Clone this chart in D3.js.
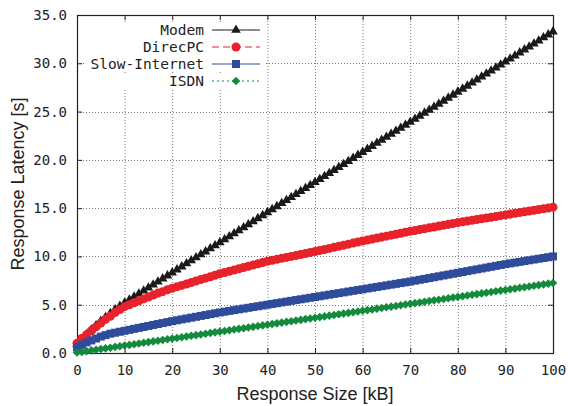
<!DOCTYPE html>
<html><head><meta charset="utf-8">
<script src="https://cdn.jsdelivr.net/npm/d3@7"></script>
<style>body{margin:0;background:#fff}svg{display:block}</style>
</head><body><svg id="c" width="568" height="406"></svg>
<script>
const sizes = [0,1,2,3,4,5,6,7,8,9,10,11,12,13,14,15,16,17,18,19,20,21,22,23,24,25,26,27,28,29,30,31,32,33,34,35,36,37,38,39,40,41,42,43,44,45,46,47,48,49,50,51,52,53,54,55,56,57,58,59,60,61,62,63,64,65,66,67,68,69,70,71,72,73,74,75,76,77,78,79,80,81,82,83,84,85,86,87,88,89,90,91,92,93,94,95,96,97,98,99,100];
const modem = [0.9,1.4,1.9,2.4,2.85,3.3,3.7,4.1,4.5,4.85,5.2,
5.51,5.82,6.14,6.45,6.76,7.07,7.38,7.7,8.01,8.32,
8.63,8.94,9.26,9.57,9.88,10.19,10.5,10.82,11.13,11.44,
11.75,12.06,12.38,12.69,13.0,13.31,13.62,13.94,14.25,14.56,
14.87,15.18,15.5,15.81,16.12,16.43,16.74,17.06,17.37,17.68,
17.99,18.3,18.62,18.93,19.24,19.55,19.86,20.18,20.49,20.8,
21.11,21.42,21.74,22.05,22.36,22.67,22.98,23.3,23.61,23.92,
24.23,24.54,24.86,25.17,25.48,25.79,26.1,26.42,26.73,27.04,
27.35,27.66,27.98,28.29,28.6,28.91,29.22,29.54,29.85,30.16,
30.47,30.78,31.1,31.41,31.72,32.03,32.34,32.66,32.97,33.28];
const direcpc = [1.0,1.5,1.9,2.3,2.7,3.1,3.5,3.8,4.2,4.5,4.8,
5.0,5.2,5.4,5.6,5.8,6.0,6.2,6.35,6.55,6.7,
6.85,7.0,7.15,7.3,7.45,7.6,7.75,7.9,8.05,8.2,
8.33,8.46,8.59,8.72,8.85,8.98,9.11,9.24,9.37,9.5,
9.6,9.7,9.8,9.9,10.0,10.1,10.2,10.3,10.4,10.5,
10.61,10.72,10.83,10.94,11.05,11.16,11.27,11.38,11.49,11.6,
11.7,11.8,11.9,12.0,12.1,12.2,12.3,12.4,12.5,12.6,
12.69,12.78,12.87,12.96,13.05,13.14,13.23,13.32,13.41,13.5,
13.58,13.66,13.74,13.82,13.9,13.98,14.06,14.14,14.22,14.3,
14.38,14.46,14.54,14.62,14.7,14.78,14.86,14.94,15.02,15.1];
const slowInternet = [0.6,0.85,1.1,1.3,1.5,1.7,1.85,2.0,2.1,2.2,2.3,
2.4,2.5,2.6,2.7,2.8,2.9,3.0,3.1,3.2,3.3,
3.39,3.48,3.57,3.66,3.75,3.84,3.93,4.02,4.11,4.2,
4.28,4.36,4.44,4.52,4.6,4.68,4.76,4.84,4.92,5.0,
5.08,5.16,5.24,5.32,5.4,5.48,5.56,5.64,5.72,5.8,
5.88,5.96,6.04,6.12,6.2,6.28,6.36,6.44,6.52,6.6,
6.68,6.76,6.84,6.92,7.0,7.08,7.16,7.24,7.32,7.4,
7.49,7.58,7.67,7.76,7.85,7.94,8.03,8.12,8.21,8.3,
8.39,8.48,8.57,8.66,8.75,8.84,8.93,9.02,9.11,9.2,
9.28,9.36,9.44,9.52,9.6,9.68,9.76,9.84,9.92,10.0];
const isdn = [0.05,0.12,0.19,0.27,0.34,0.41,0.48,0.55,0.63,0.7,0.77,
0.84,0.91,0.99,1.06,1.13,1.2,1.27,1.35,1.42,1.49,
1.56,1.63,1.71,1.78,1.85,1.92,1.99,2.07,2.14,2.21,
2.28,2.35,2.43,2.5,2.57,2.64,2.71,2.79,2.86,2.93,
3.0,3.07,3.15,3.22,3.29,3.36,3.43,3.51,3.58,3.65,
3.72,3.79,3.87,3.94,4.01,4.08,4.15,4.23,4.3,4.37,
4.44,4.51,4.59,4.66,4.73,4.8,4.87,4.95,5.02,5.09,
5.16,5.23,5.31,5.38,5.45,5.52,5.59,5.67,5.74,5.81,
5.88,5.95,6.03,6.1,6.17,6.24,6.31,6.39,6.46,6.53,
6.6,6.67,6.75,6.82,6.89,6.96,7.03,7.11,7.18,7.25];
const seriesNames = ["Modem","DirecPC","Slow-Internet","ISDN"];
const xTicks = [0,10,20,30,40,50,60,70,80,90,100];
const yTicks = [0,5,10,15,20,25,30,35];
const xTitle = "Response Size [kB]";
const yTitle = "Response Latency [s]";

const svg = d3.select("#c");
const m = {l:77, r:15, t:15, b:53};
const W = 568 - m.l - m.r, H = 406 - m.t - m.b;
const x = d3.scaleLinear().domain([0,100]).range([m.l, m.l+W]);
const y = d3.scaleLinear().domain([0,35]).range([m.t+H, m.t]);
const mono = "'DejaVu Sans Mono', monospace";
const sans = "'Liberation Sans', Arial, sans-serif";

// grid
const g = svg.append("g");
g.selectAll(".gx").data(xTicks.slice(1,-1)).join("line")
  .attr("x1", d=>x(d)+0.5).attr("x2", d=>x(d)+0.5).attr("y1", m.t).attr("y2", m.t+H)
  .attr("stroke", "#777").attr("stroke-width", 1).attr("stroke-dasharray", "1,2");
g.selectAll(".gy").data(yTicks.slice(1,-1)).join("line")
  .attr("y1", d=>Math.round(y(d))+0.5).attr("y2", d=>Math.round(y(d))+0.5).attr("x1", m.l).attr("x2", m.l+W)
  .attr("stroke", "#777").attr("stroke-width", 1).attr("stroke-dasharray", "1,2");

// axes with inward ticks
const fmt = d3.format(".1f");
const ax = svg.append("g").attr("transform", `translate(0,${m.t+H})`)
  .call(d3.axisBottom(x).tickValues(xTicks).tickSize(-5).tickPadding(12).tickFormat(d3.format("d")));
const axT = svg.append("g").attr("transform", `translate(0,${m.t})`)
  .call(d3.axisTop(x).tickValues(xTicks).tickSize(-5).tickFormat(""));
const ay = svg.append("g").attr("transform", `translate(${m.l},0)`)
  .call(d3.axisLeft(y).tickValues(yTicks).tickSize(-5).tickPadding(10).tickFormat(fmt));
const ayR = svg.append("g").attr("transform", `translate(${m.l+W},0)`)
  .call(d3.axisRight(y).tickValues(yTicks).tickSize(-5).tickFormat(""));
[ax, axT, ay, ayR].forEach(a => {
  a.select(".domain").remove();
  a.selectAll("line").attr("stroke", "#222");
  a.selectAll("text").attr("font-family", mono).attr("font-size", 14).attr("fill", "#222");
});
svg.append("rect").attr("x", m.l+0.5).attr("y", m.t+0.5).attr("width", W).attr("height", H)
  .attr("fill", "none").attr("stroke", "#222").attr("stroke-width", 1.2);

// titles
svg.append("text").attr("x", m.l + W/2).attr("y", 400).attr("text-anchor", "middle")
  .attr("font-family", sans).attr("font-size", 18).attr("fill", "#222").text(xTitle);
svg.append("text").attr("transform", `translate(24,${m.t+H/2}) rotate(-90)`).attr("text-anchor", "middle")
  .attr("font-family", sans).attr("font-size", 18).attr("fill", "#222").text(yTitle);

// series
const tri = d3.symbol().type(d3.symbolTriangle).size(40)();
const circ = d3.symbol().type(d3.symbolCircle).size(64)();
const sq = d3.symbol().type(d3.symbolSquare).size(64)();
const dia = "M0,-4.3L4.3,0L0,4.3L-4.3,0Z";
const series = [
  {name: seriesNames[0], vals: modem, color: "#1a1a1a", dash: null, sym: tri},
  {name: seriesNames[1], vals: direcpc, color: "#e8222b", dash: "7,4", sym: circ},
  {name: seriesNames[2], vals: slowInternet, color: "#2f4b9c", dash: null, sym: sq},
  {name: seriesNames[3], vals: isdn, color: "#138a3c", dash: "2,3", sym: dia}
];
const line = d3.line().x(d=>x(d[0])).y(d=>y(d[1]));
series.forEach(s => {
  const pts = sizes.map((v,i)=>[v, s.vals[i]]);
  const gg = svg.append("g");
  gg.append("path").attr("d", line(pts)).attr("fill","none").attr("stroke", s.color)
    .attr("stroke-width", 1.2).attr("stroke-dasharray", s.dash);
  gg.selectAll("path.m").data(pts).join("path").attr("class","m")
    .attr("transform", d=>`translate(${x(d[0])},${y(d[1])})`).attr("d", s.sym).attr("fill", s.color);
});

// legend
const legY = [30, 47, 64, 81];
series.forEach((s,i) => {
  const lg = svg.append("g");
  lg.append("rect").attr("x", 85).attr("y", legY[i]-8).attr("width", 180).attr("height", 16).attr("fill", "#fff");
  lg.append("text").attr("x", 204).attr("y", legY[i]).attr("dy", "0.35em").attr("text-anchor", "end")
    .attr("font-family", mono).attr("font-size", 14.5).attr("fill", "#222").text(s.name);
  lg.append("line").attr("x1", 212).attr("x2", 260).attr("y1", legY[i]).attr("y2", legY[i])
    .attr("stroke", s.color).attr("stroke-width", 1.2).attr("stroke-dasharray", s.dash);
  lg.append("path").attr("transform", `translate(236,${legY[i]})`).attr("d", s.sym).attr("fill", s.color);
});
</script></body></html>
